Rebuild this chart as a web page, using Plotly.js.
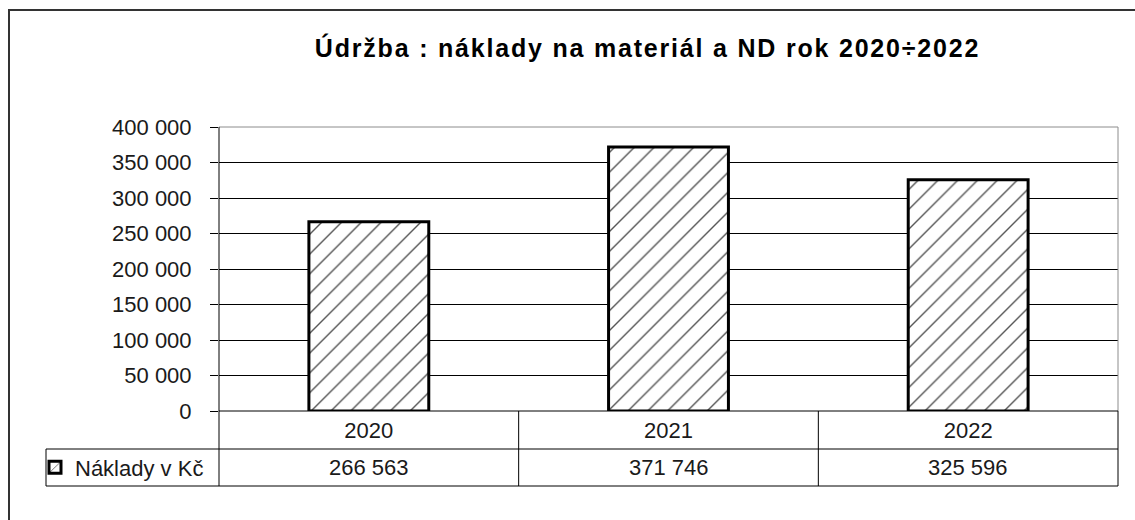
<!DOCTYPE html>
<html><head><meta charset="utf-8">
<script src="https://cdn.plot.ly/plotly-3.0.1.min.js"></script>
<style>html,body{margin:0;padding:0;background:#fff;} .gtitle{letter-spacing:1.8px;}</style>
</head><body><div id="chart" style="width:1135px;height:520px;"></div>
<script>
const chartTitle = 'Údržba : náklady na materiál a ND rok 2020÷2022';
const categories = ['2020', '2021', '2022'];
const seriesName = 'Náklady v Kč';
const values = [266563, 371746, 325596];
const yTickValues = [0, 50000, 100000, 150000, 200000, 250000, 300000, 350000, 400000];

function fmt(v) { return String(v).replace(/\B(?=(\d{3})+(?!\d))/g, ' '); }

const W = 1135, H = 520, L = 219, R = 1118, T = 127, B = 411;
const pw = R - L, ph = B - T;
const px = x => (x - L) / pw;
const py = y => (B - y) / ph;
const FONT = 'Liberation Sans, Arial, sans-serif';
const TXT = '#1a1a1a';

const rowMid = 467.5, tableBottom = 486, rowLine = 449, legendLeft = 46;

const shapes = [];
function ln(x0, y0, x1, y1, color, width, xref) {
  shapes.push({type: 'line', xref: xref || 'paper', yref: 'paper', x0, y0, x1, y1,
    line: {color, width: width || 1}});
}
// outer chart border
shapes.push({type: 'rect', xref: 'paper', yref: 'paper', x0: px(9), x1: px(1150), y0: py(540), y1: py(10),
  line: {color: '#333', width: 2}, fillcolor: 'rgba(0,0,0,0)'});
// plot frame
ln(0, 1, 1, 1, '#8c8c8c', 1);
ln(1, 1, 1, 0, '#8c8c8c', 1);
ln(0, 1, 0, py(tableBottom), '#000', 1);
ln(0, 0, 1, 0, '#000', 1);
// table
ln(1, 0, 1, py(tableBottom), '#000', 1);
ln(px(legendLeft), py(rowLine), 1, py(rowLine), '#000', 1);
ln(px(legendLeft), py(tableBottom), 1, py(tableBottom), '#000', 1);
ln(px(legendLeft), py(rowLine), px(legendLeft), py(tableBottom), '#000', 1);
for (let i = 1; i < categories.length; i++) {
  ln(i - 0.5, 0, i - 0.5, py(tableBottom), '#000', 1, 'x');
}

const annotations = values.map((v, i) => ({
  x: i, xref: 'x', y: py(rowMid), yref: 'paper', yanchor: 'middle', xanchor: 'center',
  text: fmt(v), showarrow: false, font: {family: FONT, size: 22, color: TXT}
}));

const trace = {
  type: 'bar', x: categories, y: values, name: seriesName, width: 0.4,
  marker: {color: '#fff', line: {color: '#000', width: 3},
    pattern: {shape: '/', fgcolor: '#555', bgcolor: '#fff', size: 14, solidity: 0.1}},
  hoverinfo: 'skip'
};

const layout = {
  width: W, height: H,
  margin: {l: L, r: W - R, t: T, b: H - B, pad: 0},
  paper_bgcolor: '#fff', plot_bgcolor: '#fff',
  title: {text: chartTitle, font: {family: FONT, size: 25, weight: 'bold', color: '#000'},
    x: 647.5 / W, xref: 'container', xanchor: 'center', y: 1 - 48 / H, yref: 'container', yanchor: 'middle'},
  xaxis: {type: 'category', range: [-0.5, 2.5], showgrid: false, showline: false, zeroline: false,
    ticks: '', tickfont: {family: FONT, size: 22, color: TXT}, ticklabelstandoff: 4, fixedrange: true},
  yaxis: {range: [0, 400000], tickvals: yTickValues, ticktext: yTickValues.map(fmt),
    showgrid: true, gridcolor: '#000', gridwidth: 1, zeroline: false, showline: false,
    ticks: 'outside', ticklen: 8, tickcolor: '#000', tickwidth: 1,
    tickfont: {family: FONT, size: 22, color: TXT}, ticklabelstandoff: 14, fixedrange: true},
  showlegend: true,
  legend: {x: px(35), xanchor: 'left', y: py(rowMid), yanchor: 'middle', bgcolor: 'rgba(0,0,0,0)',
    borderwidth: 0, font: {family: FONT, size: 22, color: TXT}, itemwidth: 30},
  shapes, annotations
};

Plotly.newPlot('chart', [trace], layout, {staticPlot: true, displayModeBar: false});
</script></body></html>
